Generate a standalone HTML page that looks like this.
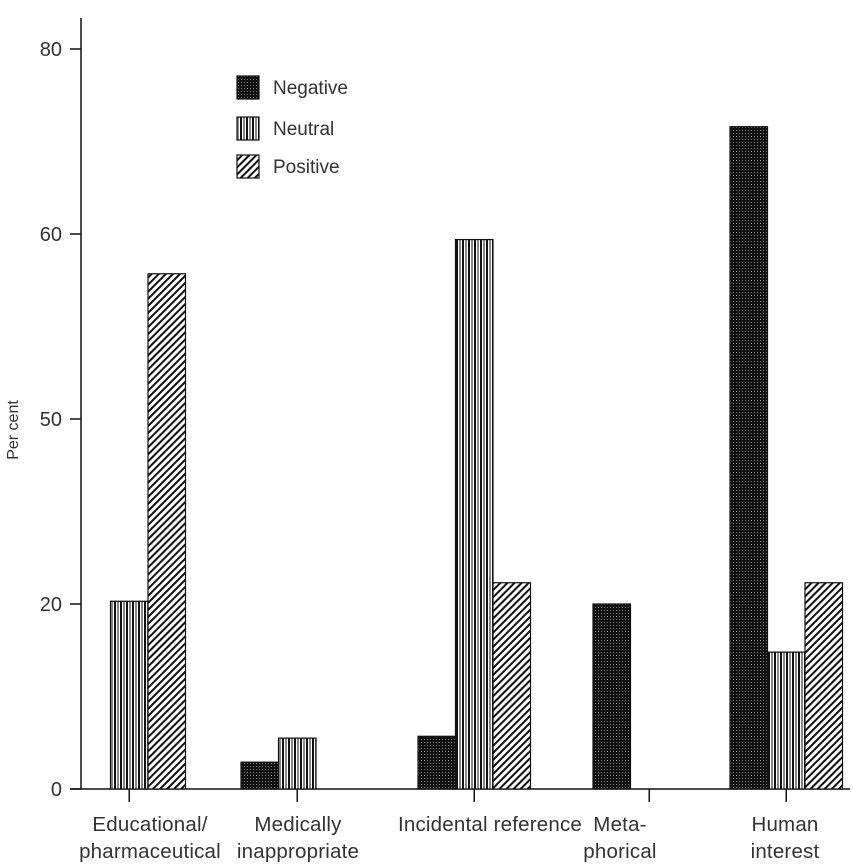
<!DOCTYPE html>
<html><head><meta charset="utf-8"><style>
html,body{margin:0;padding:0;background:#fff;}
svg{display:block;font-family:"Liberation Sans",sans-serif;}
</style></head><body>
<svg id="chart" width="853" height="865" viewBox="0 0 853 865">
<defs>
<pattern id="pNeg" width="3" height="3" patternUnits="userSpaceOnUse"><rect width="3" height="3" fill="#111"/><rect x="1" y="1" width="1" height="1" fill="#777"/></pattern>
<pattern id="pNeu" width="6" height="4" patternUnits="userSpaceOnUse"><rect width="6" height="4" fill="#fff"/><rect width="2" height="4" fill="#111"/><rect x="3" width="2" height="4" fill="#888"/></pattern>
<pattern id="pPos" width="5" height="5" patternUnits="userSpaceOnUse" patternTransform="rotate(45)"><rect width="5" height="5" fill="#fff"/><rect width="2" height="5" fill="#111"/></pattern>
</defs>
<g id="axes"></g><g id="bars"></g><g id="legend"></g>
</svg>
<script>
const categories = [["Educational/","pharmaceutical"],["Medically","inappropriate"],["Incidental reference",""],["Meta-","phorical"],["Human","interest"]];
const negative = [0, 2.9, 5.7, 20, 71.6];
const neutral = [20.3, 5.5, 59.4, 0, 14.8];
const positive = [55.7, 0, 22.3, 0, 22.3];
const tickValues = [0, 20, 40, 60, 80];
const tickLabels = ["0", "20", "50", "60", "80"];
const seriesNames = ["Negative", "Neutral", "Positive"];

const NS = "http://www.w3.org/2000/svg";
const y0 = 789, pxPerUnit = 9.25, axisX = 81;
const y = v => y0 - v * pxPerUnit;
const groupLeft = [73, 241, 418, 593, 730];
const labelCenter = [150, 298, 490, 620, 785];
const barW = 37.5;
function mk(tag, attrs, parent) { const e = document.createElementNS(NS, tag); for (const k in attrs) e.setAttribute(k, attrs[k]); parent.appendChild(e); return e; }
const axes = document.getElementById('axes'), bars = document.getElementById('bars'), legend = document.getElementById('legend');

let l = mk('line', {x1: axisX, y1: 18, x2: axisX, y2: y0, stroke: '#111', 'stroke-width': 1.5}, axes);


let xl = mk('line', {x1: 70, y1: y0, x2: 850, y2: y0, stroke: '#111', 'stroke-width': 1.5}, axes);


tickValues.forEach((v, i) => {
  const t = mk('line', {x1: 70, y1: y(v), x2: axisX, y2: y(v), stroke: '#111', 'stroke-width': 1.5}, axes);
  
  
  const tx = mk('text', {x: 62, y: y(v) + 7, 'text-anchor': 'end', 'font-size': 20, fill: '#333'}, axes);
  tx.textContent = tickLabels[i];
  
  
});
const yt = mk('text', {x: 18, y: 430, transform: 'rotate(-90 18 430)', 'text-anchor': 'middle', 'font-size': 16, fill: '#333'}, axes);
yt.textContent = 'Per cent';



const fills = ['url(#pNeg)', 'url(#pNeu)', 'url(#pPos)'];
const series = [negative, neutral, positive];
categories.forEach((c, gi) => {
  const xt = mk('line', {x1: groupLeft[gi] + 1.5 * barW, y1: y0, x2: groupLeft[gi] + 1.5 * barW, y2: y0 + 13, stroke: '#111', 'stroke-width': 1.5}, axes);
  
  
  series.forEach((s, si) => {
    const v = s[gi];
    if (v <= 0) return;
    const r = mk('rect', {x: groupLeft[gi] + si * barW, y: y(v), width: barW, height: y0 - y(v), fill: fills[si], stroke: '#111', 'stroke-width': 1.2}, bars);
    
    
  });
  c.forEach((line, li) => {
    if (!line) return;
    const t = mk('text', {x: labelCenter[gi], y: 831 + li * 27, 'text-anchor': 'middle', 'font-size': 20.5, 'letter-spacing': '0.2', fill: '#333'}, axes);
    t.textContent = line;
    
    
  });
});
const legY = [76, 117, 155];
seriesNames.forEach((n, i) => {
  const r = mk('rect', {x: 237, y: legY[i], width: 22, height: 23, fill: fills[i], stroke: '#111', 'stroke-width': 1.2}, legend);
  
  
  const t = mk('text', {x: 273, y: legY[i] + 18, 'font-size': 19, fill: '#333'}, legend);
  t.textContent = n;
  
  
});
</script>
</body></html>
